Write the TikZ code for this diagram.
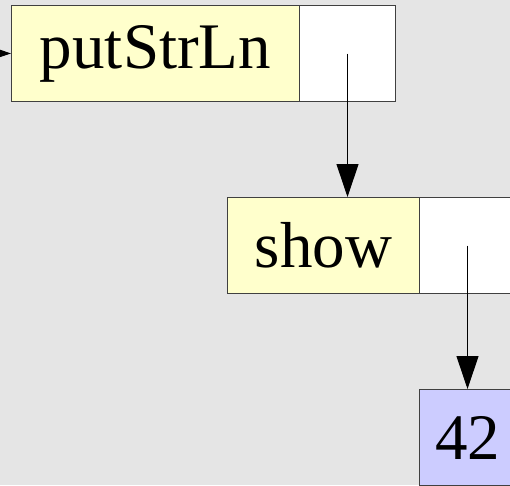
\documentclass[tikz,border=0pt]{standalone}
\usepackage{fontspec}
\setmainfont{Liberation Serif}
\usetikzlibrary{arrows.meta}
\definecolor{bg}{HTML}{E5E5E5}
\definecolor{yel}{HTML}{FFFFCC}
\definecolor{blu}{HTML}{CCCCFF}
\begin{document}
\begin{tikzpicture}[x=1pt,y=-1pt,
  cell/.style={draw=black!75, line width=1pt, inner sep=0pt, anchor=north west, minimum height=96pt, font=\fontsize{65}{65}\selectfont},
  link/.style={line width=1pt, -{Triangle[length=33pt,width=22pt]}}]
\useasboundingbox[fill=bg] (0,0) rectangle (510,485);
\node[cell, fill=yel, minimum width=288pt] (p) at (11,5) {putStrLn};
\node[cell, fill=white, minimum width=96pt] (pw) at (299,5) {};
\node[cell, fill=yel, minimum width=192pt] (s) at (227,197) {show};
\node[cell, fill=white, minimum width=96pt] (sw) at (419,197) {};
\node[cell, fill=blu, minimum width=96pt] (n) at (419,389) {42};
\coordinate (in) at (-40,53);
\draw[link] (in) -- (p.west);
\draw[link] (pw.center) -- (pw.center |- s.north);
\draw[link] (sw.center) -- (n.north);
\end{tikzpicture}
\end{document}
